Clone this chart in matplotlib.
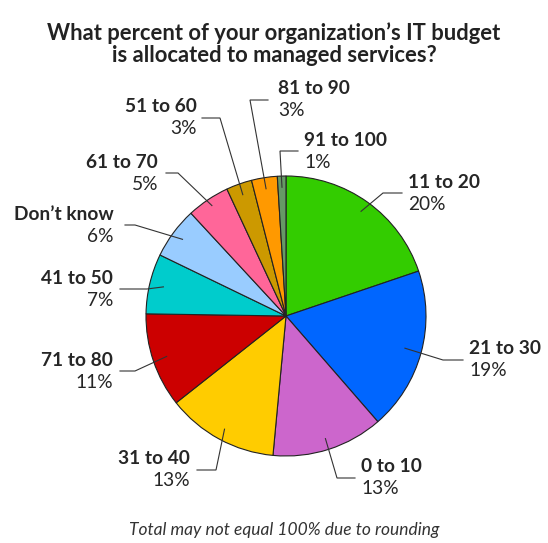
import numpy as np
import matplotlib.pyplot as plt

plt.rcParams["font.family"] = ["Lato", "DejaVu Sans"]

# Data (clockwise from 12 o'clock)
categories = ["11 to 20", "21 to 30", "0 to 10", "31 to 40", "71 to 80", "41 to 50",
              "Don\u2019t know", "61 to 70", "51 to 60", "81 to 90", "91 to 100"]
percents = [20, 19, 13, 13, 11, 7, 6, 5, 3, 3, 1]
colors = ["#33cc00", "#0066ff", "#cc66cc", "#ffcc00", "#cc0000", "#00cccc",
          "#99ccff", "#ff6699", "#cc9900", "#ff9900", "#669966"]

# Label layout in pixel coords (top-left origin): elbow point, line end, text x, ha
elbows = [(383, 193), (443, 360), (337, 478), (216, 470), (135, 371), (147, 289),
          (135, 225), (178, 173), (220, 118), (250, 100), (280, 151)]
line_ends = [(402, 193), (463, 360), (355, 478), (197, 470), (120, 371), (120, 289),
             (125, 225), (166, 173), (202, 118), (268, 100), (298, 151)]
text_x = [408, 469, 361, 190, 113, 113, 114, 158, 197, 278, 304]
text_ha = ["left", "left", "left", "right", "right", "right", "right", "right",
           "right", "left", "left"]
line_frac = [0.92, 0.88, 0.92, 0.92, 0.9, 0.9, 0.92, 0.95, 0.92, 0.92, 0.92]

W, H = 548, 543
fig = plt.figure(figsize=(W / 100, H / 100), dpi=100)
ax = fig.add_axes([0, 0, 1, 1])

cx, cy, r = 286, H - 316, 140
wedges, _ = ax.pie(percents, colors=colors, startangle=90, counterclock=False,
                   center=(cx, cy), radius=r, frame=True,
                   wedgeprops=dict(edgecolor="#222222", linewidth=0.8))
ax.set_xlim(0, W)
ax.set_ylim(0, H)
ax.set_aspect("equal")
ax.axis("off")

text_col = "#262626"
for i, w in enumerate(wedges):
    mid = np.deg2rad((w.theta1 + w.theta2) / 2)
    sx = cx + line_frac[i] * r * np.cos(mid)
    sy = cy + line_frac[i] * r * np.sin(mid)
    ex, ey = elbows[i]
    lx, ly = line_ends[i]
    ax.plot([sx, ex, lx], [sy, H - ey, H - ly], color="#333333", lw=0.8,
            solid_joinstyle="miter")
    ax.text(text_x[i], H - ey + 11, categories[i], ha=text_ha[i], va="center",
            fontsize=13.8, fontweight="bold", color=text_col)
    ax.text(text_x[i], H - ey - 11, f"{percents[i]}%", ha=text_ha[i], va="center",
            fontsize=13.8, color=text_col)

ax.text(W / 2, H - 44, "What percent of your organization\u2019s IT budget\nis allocated to managed services?",
        ha="center", va="center", fontsize=15.8, fontweight="bold", color="#222222",
        linespacing=1.05)
ax.text(W / 2 + 10, H - 530, "Total may not equal 100% due to rounding", ha="center",
        va="center", fontsize=12.5, style="italic", color="#333333")

fig.savefig("out.png", dpi=100)
